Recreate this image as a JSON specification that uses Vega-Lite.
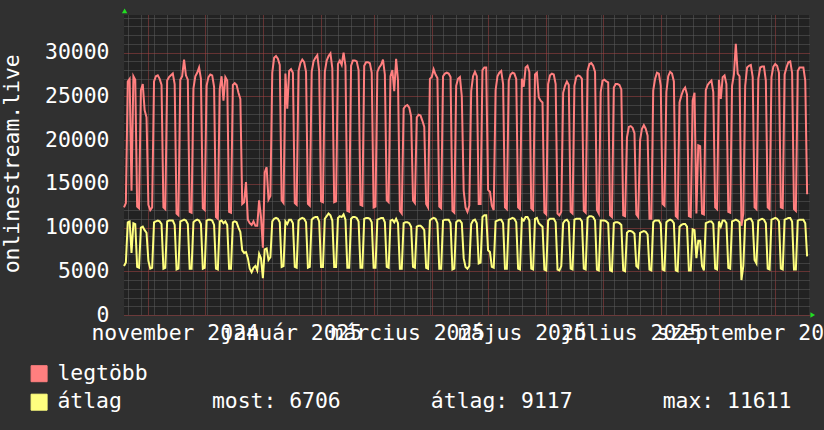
{
  "$schema": "https://vega.github.io/schema/vega-lite/v6.json",
  "width": 685,
  "height": 300,
  "autosize": "none",
  "padding": {"left": 124, "top": 15, "right": 15, "bottom": 115},
  "background": "#303030",
  "view": {"fill": "#222222", "stroke": null},
  "config": {"font": "DejaVu Sans Mono"},
  "data": {"values": [
{"d":"2024-10-19","legtöbb":12300,"átlag":5600},{"d":"2024-10-20","legtöbb":12800,"átlag":6000},
{"d":"2024-10-21","legtöbb":26700,"átlag":10600},{"d":"2024-10-22","legtöbb":27000,"átlag":10700},{"d":"2024-10-23","legtöbb":14200,"átlag":7100},{"d":"2024-10-24","legtöbb":27300,"átlag":10500},{"d":"2024-10-25","legtöbb":26900,"átlag":10400},{"d":"2024-10-26","legtöbb":12400,"átlag":5500},{"d":"2024-10-27","legtöbb":12200,"átlag":5400},
{"d":"2024-10-28","legtöbb":25700,"átlag":10000},{"d":"2024-10-29","legtöbb":26400,"átlag":10100},{"d":"2024-10-30","legtöbb":23400,"átlag":9700},{"d":"2024-10-31","legtöbb":22600,"átlag":9400},{"d":"2024-11-01","legtöbb":12600,"átlag":6200},{"d":"2024-11-02","legtöbb":12000,"átlag":5300},{"d":"2024-11-03","legtöbb":12300,"átlag":5400},
{"d":"2024-11-04","legtöbb":26700,"átlag":10600},{"d":"2024-11-05","legtöbb":27300,"átlag":10700},{"d":"2024-11-06","legtöbb":27400,"átlag":10800},{"d":"2024-11-07","legtöbb":27000,"átlag":10700},{"d":"2024-11-08","legtöbb":26300,"átlag":10400},{"d":"2024-11-09","legtöbb":12300,"átlag":5300},{"d":"2024-11-10","legtöbb":12100,"átlag":5400},
{"d":"2024-11-11","legtöbb":26800,"átlag":10700},{"d":"2024-11-12","legtöbb":27200,"átlag":10800},{"d":"2024-11-13","legtöbb":27400,"átlag":10800},{"d":"2024-11-14","legtöbb":27600,"átlag":10800},{"d":"2024-11-15","legtöbb":26400,"átlag":10300},{"d":"2024-11-16","legtöbb":11600,"átlag":5200},{"d":"2024-11-17","legtöbb":11400,"átlag":5300},
{"d":"2024-11-18","legtöbb":26900,"átlag":10700},{"d":"2024-11-19","legtöbb":27300,"átlag":10800},{"d":"2024-11-20","legtöbb":29200,"átlag":10900},{"d":"2024-11-21","legtöbb":27400,"átlag":10800},{"d":"2024-11-22","legtöbb":26900,"átlag":10400},{"d":"2024-11-23","legtöbb":11800,"átlag":5300},{"d":"2024-11-24","legtöbb":11700,"átlag":5300},
{"d":"2024-11-25","legtöbb":25900,"átlag":10600},{"d":"2024-11-26","legtöbb":27300,"átlag":10800},{"d":"2024-11-27","legtöbb":27700,"átlag":10900},{"d":"2024-11-28","legtöbb":28300,"átlag":10800},{"d":"2024-11-29","legtöbb":27000,"átlag":10400},{"d":"2024-11-30","legtöbb":12200,"átlag":5300},{"d":"2024-12-01","legtöbb":12000,"átlag":5400},
{"d":"2024-12-02","legtöbb":26200,"átlag":10800},{"d":"2024-12-03","legtöbb":27200,"átlag":10900},{"d":"2024-12-04","legtöbb":27500,"átlag":10900},{"d":"2024-12-05","legtöbb":27400,"átlag":10800},{"d":"2024-12-06","legtöbb":26100,"átlag":10300},{"d":"2024-12-07","legtöbb":11200,"átlag":5300},{"d":"2024-12-08","legtöbb":11000,"átlag":5200},
{"d":"2024-12-09","legtöbb":25800,"átlag":10700},{"d":"2024-12-10","legtöbb":27300,"átlag":10800},{"d":"2024-12-11","legtöbb":24500,"átlag":10500},{"d":"2024-12-12","legtöbb":27200,"átlag":10700},{"d":"2024-12-13","legtöbb":26800,"átlag":10300},{"d":"2024-12-14","legtöbb":11800,"átlag":5300},{"d":"2024-12-15","legtöbb":11700,"átlag":5300},
{"d":"2024-12-16","legtöbb":26300,"átlag":10600},{"d":"2024-12-17","legtöbb":26500,"átlag":10700},{"d":"2024-12-18","legtöbb":26300,"átlag":10600},{"d":"2024-12-19","legtöbb":25400,"átlag":10000},{"d":"2024-12-20","legtöbb":24700,"átlag":9500},{"d":"2024-12-21","legtöbb":12700,"átlag":7400},{"d":"2024-12-22","legtöbb":12900,"átlag":7100},
{"d":"2024-12-23","legtöbb":15200,"átlag":7200},{"d":"2024-12-24","legtöbb":10900,"átlag":6500},{"d":"2024-12-25","legtöbb":10500,"átlag":5300},{"d":"2024-12-26","legtöbb":10300,"átlag":4900},{"d":"2024-12-27","legtöbb":10700,"átlag":5400},{"d":"2024-12-28","legtöbb":10200,"átlag":5600},{"d":"2024-12-29","legtöbb":10200,"átlag":5100},
{"d":"2024-12-30","legtöbb":13100,"átlag":7000},{"d":"2024-12-31","legtöbb":11200,"átlag":6500},{"d":"2025-01-01","legtöbb":7700,"átlag":4200},{"d":"2025-01-02","legtöbb":16300,"átlag":7500},{"d":"2025-01-03","legtöbb":16900,"átlag":7600},{"d":"2025-01-04","legtöbb":13200,"átlag":6300},{"d":"2025-01-05","legtöbb":13600,"átlag":6600},
{"d":"2025-01-06","legtöbb":27700,"átlag":10700},{"d":"2025-01-07","legtöbb":29400,"átlag":11000},{"d":"2025-01-08","legtöbb":29600,"átlag":11100},{"d":"2025-01-09","legtöbb":29300,"átlag":11000},{"d":"2025-01-10","legtöbb":28600,"átlag":10600},{"d":"2025-01-11","legtöbb":13100,"átlag":5500},{"d":"2025-01-12","legtöbb":12800,"átlag":5600},
{"d":"2025-01-13","legtöbb":27600,"átlag":10700},{"d":"2025-01-14","legtöbb":23600,"átlag":10400},{"d":"2025-01-15","legtöbb":27900,"átlag":10900},{"d":"2025-01-16","legtöbb":28100,"átlag":10900},{"d":"2025-01-17","legtöbb":27700,"átlag":10500},{"d":"2025-01-18","legtöbb":12800,"átlag":5500},{"d":"2025-01-19","legtöbb":12600,"átlag":5400},
{"d":"2025-01-20","legtöbb":27900,"átlag":10800},{"d":"2025-01-21","legtöbb":28800,"átlag":11000},{"d":"2025-01-22","legtöbb":29200,"átlag":11100},{"d":"2025-01-23","legtöbb":28900,"átlag":11000},{"d":"2025-01-24","legtöbb":27800,"átlag":10600},{"d":"2025-01-25","legtöbb":12700,"átlag":5400},{"d":"2025-01-26","legtöbb":12500,"átlag":5500},
{"d":"2025-01-27","legtöbb":27800,"átlag":10900},{"d":"2025-01-28","legtöbb":29000,"átlag":11100},{"d":"2025-01-29","legtöbb":29400,"átlag":11200},{"d":"2025-01-30","legtöbb":29700,"átlag":11200},{"d":"2025-01-31","legtöbb":27900,"átlag":10700},{"d":"2025-02-01","legtöbb":13000,"átlag":5500},{"d":"2025-02-02","legtöbb":12900,"átlag":5500},
{"d":"2025-02-03","legtöbb":27800,"átlag":11000},{"d":"2025-02-04","legtöbb":29100,"átlag":11300},{"d":"2025-02-05","legtöbb":29600,"átlag":11611},{"d":"2025-02-06","legtöbb":29900,"átlag":11400},{"d":"2025-02-07","legtöbb":28200,"átlag":10800},{"d":"2025-02-08","legtöbb":12900,"átlag":5500},{"d":"2025-02-09","legtöbb":13000,"átlag":5500},
{"d":"2025-02-10","legtöbb":28700,"átlag":11100},{"d":"2025-02-11","legtöbb":29100,"átlag":11300},{"d":"2025-02-12","legtöbb":28600,"átlag":11200},{"d":"2025-02-13","legtöbb":30000,"átlag":11500},{"d":"2025-02-14","legtöbb":28500,"átlag":10900},{"d":"2025-02-15","legtöbb":11900,"átlag":5400},{"d":"2025-02-16","legtöbb":11800,"átlag":5400},
{"d":"2025-02-17","legtöbb":28500,"átlag":11000},{"d":"2025-02-18","legtöbb":29100,"átlag":11200},{"d":"2025-02-19","legtöbb":29100,"átlag":11200},{"d":"2025-02-20","legtöbb":29000,"átlag":11100},{"d":"2025-02-21","legtöbb":28000,"átlag":10700},{"d":"2025-02-22","legtöbb":12600,"átlag":5400},{"d":"2025-02-23","legtöbb":12500,"átlag":5400},
{"d":"2025-02-24","legtöbb":28500,"átlag":11000},{"d":"2025-02-25","legtöbb":28900,"átlag":11100},{"d":"2025-02-26","legtöbb":28900,"átlag":11100},{"d":"2025-02-27","legtöbb":28800,"átlag":11000},{"d":"2025-02-28","legtöbb":27700,"átlag":10600},{"d":"2025-03-01","legtöbb":12300,"átlag":5400},{"d":"2025-03-02","legtöbb":12400,"átlag":5400},
{"d":"2025-03-03","legtöbb":27800,"átlag":10900},{"d":"2025-03-04","legtöbb":28300,"átlag":11000},{"d":"2025-03-05","legtöbb":28600,"átlag":11100},{"d":"2025-03-06","legtöbb":29200,"átlag":11100},{"d":"2025-03-07","legtöbb":27500,"átlag":10600},{"d":"2025-03-08","legtöbb":13100,"átlag":5500},{"d":"2025-03-09","legtöbb":12900,"átlag":5400},
{"d":"2025-03-10","legtöbb":27300,"átlag":10800},{"d":"2025-03-11","legtöbb":28000,"átlag":10900},{"d":"2025-03-12","legtöbb":25600,"átlag":10600},{"d":"2025-03-13","legtöbb":29300,"átlag":11000},{"d":"2025-03-14","legtöbb":26800,"átlag":10500},{"d":"2025-03-15","legtöbb":11900,"átlag":5300},{"d":"2025-03-16","legtöbb":11600,"átlag":5300},
{"d":"2025-03-17","legtöbb":23600,"átlag":10500},{"d":"2025-03-18","legtöbb":23900,"átlag":10600},{"d":"2025-03-19","legtöbb":24000,"átlag":10600},{"d":"2025-03-20","legtöbb":23700,"átlag":10500},{"d":"2025-03-21","legtöbb":22700,"átlag":10100},{"d":"2025-03-22","legtöbb":13100,"átlag":5500},{"d":"2025-03-23","legtöbb":12800,"átlag":5400},
{"d":"2025-03-24","legtöbb":22600,"átlag":10100},{"d":"2025-03-25","legtöbb":22900,"átlag":10200},{"d":"2025-03-26","legtöbb":22800,"átlag":10200},{"d":"2025-03-27","legtöbb":22200,"átlag":10000},{"d":"2025-03-28","legtöbb":21500,"átlag":9700},{"d":"2025-03-29","legtöbb":12700,"átlag":5400},{"d":"2025-03-30","legtöbb":12300,"átlag":5300},
{"d":"2025-03-31","legtöbb":27000,"átlag":10800},{"d":"2025-04-01","legtöbb":27200,"átlag":11000},{"d":"2025-04-02","legtöbb":28100,"átlag":11100},{"d":"2025-04-03","legtöbb":27500,"átlag":11000},{"d":"2025-04-04","legtöbb":27100,"átlag":10500},{"d":"2025-04-05","legtöbb":12400,"átlag":5300},{"d":"2025-04-06","legtöbb":12200,"átlag":5300},
{"d":"2025-04-07","legtöbb":27300,"átlag":10800},{"d":"2025-04-08","legtöbb":27600,"átlag":10900},{"d":"2025-04-09","legtöbb":27700,"átlag":10900},{"d":"2025-04-10","legtöbb":27600,"átlag":10900},{"d":"2025-04-11","legtöbb":27200,"átlag":10500},{"d":"2025-04-12","legtöbb":11900,"átlag":5200},{"d":"2025-04-13","legtöbb":11700,"átlag":5300},
{"d":"2025-04-14","legtöbb":26200,"átlag":10600},{"d":"2025-04-15","legtöbb":27000,"átlag":10800},{"d":"2025-04-16","legtöbb":27200,"átlag":10800},{"d":"2025-04-17","legtöbb":25000,"átlag":10500},{"d":"2025-04-18","legtöbb":14200,"átlag":6500},{"d":"2025-04-19","legtöbb":12300,"átlag":5500},{"d":"2025-04-20","legtöbb":11800,"átlag":5300},
{"d":"2025-04-21","legtöbb":12500,"átlag":5600},{"d":"2025-04-22","legtöbb":25600,"átlag":10400},{"d":"2025-04-23","legtöbb":27300,"átlag":10800},{"d":"2025-04-24","legtöbb":27800,"átlag":10900},{"d":"2025-04-25","legtöbb":27300,"átlag":10500},{"d":"2025-04-26","legtöbb":12700,"átlag":5900},{"d":"2025-04-27","legtöbb":12700,"átlag":6000},
{"d":"2025-04-28","legtöbb":28000,"átlag":11200},{"d":"2025-04-29","legtöbb":28300,"átlag":11400},{"d":"2025-04-30","legtöbb":28300,"átlag":11400},{"d":"2025-05-01","legtöbb":14300,"átlag":7400},{"d":"2025-05-02","legtöbb":14100,"átlag":7200},{"d":"2025-05-03","legtöbb":12500,"átlag":5500},{"d":"2025-05-04","legtöbb":12000,"átlag":5400},
{"d":"2025-05-05","legtöbb":25700,"átlag":10700},{"d":"2025-05-06","legtöbb":27300,"átlag":10800},{"d":"2025-05-07","legtöbb":27700,"átlag":10900},{"d":"2025-05-08","legtöbb":27900,"átlag":10900},{"d":"2025-05-09","legtöbb":26400,"átlag":10500},{"d":"2025-05-10","legtöbb":12300,"átlag":5300},{"d":"2025-05-11","legtöbb":12100,"átlag":5300},
{"d":"2025-05-12","legtöbb":26800,"átlag":10900},{"d":"2025-05-13","legtöbb":27500,"átlag":11000},{"d":"2025-05-14","legtöbb":27700,"átlag":11100},{"d":"2025-05-15","legtöbb":27600,"átlag":11000},{"d":"2025-05-16","legtöbb":27000,"átlag":10600},{"d":"2025-05-17","legtöbb":12300,"átlag":5300},{"d":"2025-05-18","legtöbb":12100,"átlag":5200},
{"d":"2025-05-19","legtöbb":27000,"átlag":11000},{"d":"2025-05-20","legtöbb":26100,"átlag":10800},{"d":"2025-05-21","legtöbb":28300,"átlag":11200},{"d":"2025-05-22","legtöbb":28500,"átlag":11200},{"d":"2025-05-23","legtöbb":27800,"átlag":10800},{"d":"2025-05-24","legtöbb":12200,"átlag":5300},{"d":"2025-05-25","legtöbb":12000,"átlag":5200},
{"d":"2025-05-26","legtöbb":27500,"átlag":11000},{"d":"2025-05-27","legtöbb":27700,"átlag":11100},{"d":"2025-05-28","legtöbb":24900,"átlag":10500},{"d":"2025-05-29","legtöbb":24500,"átlag":10300},{"d":"2025-05-30","legtöbb":24300,"átlag":10100},{"d":"2025-05-31","legtöbb":11700,"átlag":5200},{"d":"2025-06-01","legtöbb":11500,"átlag":5100},
{"d":"2025-06-02","legtöbb":26400,"átlag":10800},{"d":"2025-06-03","legtöbb":27400,"átlag":11000},{"d":"2025-06-04","legtöbb":27600,"átlag":11000},{"d":"2025-06-05","legtöbb":27500,"átlag":11000},{"d":"2025-06-06","legtöbb":26400,"átlag":10600},{"d":"2025-06-07","legtöbb":11600,"átlag":5200},{"d":"2025-06-08","legtöbb":11400,"átlag":5100},
{"d":"2025-06-09","legtöbb":11800,"átlag":5600},{"d":"2025-06-10","legtöbb":25400,"átlag":10500},{"d":"2025-06-11","legtöbb":26200,"átlag":10800},{"d":"2025-06-12","legtöbb":26700,"átlag":10900},{"d":"2025-06-13","legtöbb":26300,"átlag":10600},{"d":"2025-06-14","legtöbb":11800,"átlag":5300},{"d":"2025-06-15","legtöbb":11600,"átlag":5200},
{"d":"2025-06-16","legtöbb":26200,"átlag":10900},{"d":"2025-06-17","legtöbb":27200,"átlag":11000},{"d":"2025-06-18","legtöbb":27400,"átlag":11000},{"d":"2025-06-19","legtöbb":27300,"átlag":11000},{"d":"2025-06-20","legtöbb":27000,"átlag":10700},{"d":"2025-06-21","legtöbb":11900,"átlag":5300},{"d":"2025-06-22","legtöbb":11700,"átlag":5200},
{"d":"2025-06-23","legtöbb":27900,"átlag":11100},{"d":"2025-06-24","legtöbb":28700,"átlag":11300},{"d":"2025-06-25","legtöbb":28800,"átlag":11300},{"d":"2025-06-26","legtöbb":28500,"átlag":11200},{"d":"2025-06-27","legtöbb":27800,"átlag":10800},{"d":"2025-06-28","legtöbb":12000,"átlag":5200},{"d":"2025-06-29","legtöbb":11600,"átlag":5100},
{"d":"2025-06-30","legtöbb":25500,"átlag":10800},{"d":"2025-07-01","legtöbb":26800,"átlag":10800},{"d":"2025-07-02","legtöbb":26900,"átlag":10800},{"d":"2025-07-03","legtöbb":26700,"átlag":10700},{"d":"2025-07-04","legtöbb":26600,"átlag":10500},{"d":"2025-07-05","legtöbb":11400,"átlag":5100},{"d":"2025-07-06","legtöbb":11200,"átlag":5000},
{"d":"2025-07-07","legtöbb":26000,"átlag":10500},{"d":"2025-07-08","legtöbb":26400,"átlag":10600},{"d":"2025-07-09","legtöbb":26400,"átlag":10600},{"d":"2025-07-10","legtöbb":26300,"átlag":10500},{"d":"2025-07-11","legtöbb":25800,"átlag":10300},{"d":"2025-07-12","legtöbb":11400,"átlag":5100},{"d":"2025-07-13","legtöbb":11300,"átlag":5000},
{"d":"2025-07-14","legtöbb":20300,"átlag":9400},{"d":"2025-07-15","legtöbb":21500,"átlag":9600},{"d":"2025-07-16","legtöbb":21600,"átlag":9600},{"d":"2025-07-17","legtöbb":21400,"átlag":9500},{"d":"2025-07-18","legtöbb":20800,"átlag":9300},{"d":"2025-07-19","legtöbb":11500,"átlag":5600},{"d":"2025-07-20","legtöbb":11200,"átlag":5400},
{"d":"2025-07-21","legtöbb":20000,"átlag":9400},{"d":"2025-07-22","legtöbb":21300,"átlag":9500},{"d":"2025-07-23","legtöbb":21700,"átlag":9600},{"d":"2025-07-24","legtöbb":21300,"átlag":9500},{"d":"2025-07-25","legtöbb":20500,"átlag":9200},{"d":"2025-07-26","legtöbb":11000,"átlag":5200},{"d":"2025-07-27","legtöbb":11000,"átlag":5100},
{"d":"2025-07-28","legtöbb":25700,"átlag":10600},{"d":"2025-07-29","legtöbb":27000,"átlag":10800},{"d":"2025-07-30","legtöbb":27700,"átlag":10800},{"d":"2025-07-31","legtöbb":27600,"átlag":10800},{"d":"2025-08-01","legtöbb":26200,"átlag":10400},{"d":"2025-08-02","legtöbb":12700,"átlag":5200},{"d":"2025-08-03","legtöbb":12500,"átlag":5100},
{"d":"2025-08-04","legtöbb":25500,"átlag":10600},{"d":"2025-08-05","legtöbb":27300,"átlag":10800},{"d":"2025-08-06","legtöbb":27800,"átlag":10900},{"d":"2025-08-07","legtöbb":27600,"átlag":10800},{"d":"2025-08-08","legtöbb":26700,"átlag":10500},{"d":"2025-08-09","legtöbb":11300,"átlag":5100},{"d":"2025-08-10","legtöbb":11100,"átlag":5000},
{"d":"2025-08-11","legtöbb":24300,"átlag":10100},{"d":"2025-08-12","legtöbb":25100,"átlag":10300},{"d":"2025-08-13","legtöbb":25700,"átlag":10400},{"d":"2025-08-14","legtöbb":26000,"átlag":10400},{"d":"2025-08-15","legtöbb":25200,"átlag":10100},{"d":"2025-08-16","legtöbb":11300,"átlag":5100},{"d":"2025-08-17","legtöbb":11200,"átlag":5100},
{"d":"2025-08-18","legtöbb":24500,"átlag":9800},{"d":"2025-08-19","legtöbb":25400,"átlag":9700},{"d":"2025-08-20","legtöbb":11600,"átlag":6500},{"d":"2025-08-21","legtöbb":19400,"átlag":8500},{"d":"2025-08-22","legtöbb":19300,"átlag":8500},{"d":"2025-08-23","legtöbb":11600,"átlag":5600},{"d":"2025-08-24","legtöbb":11500,"átlag":5100},
{"d":"2025-08-25","legtöbb":25700,"átlag":10500},{"d":"2025-08-26","legtöbb":26300,"átlag":10600},{"d":"2025-08-27","legtöbb":26600,"átlag":10700},{"d":"2025-08-28","legtöbb":26800,"átlag":10700},{"d":"2025-08-29","legtöbb":25500,"átlag":10400},{"d":"2025-08-30","legtöbb":12300,"átlag":5300},{"d":"2025-08-31","legtöbb":12100,"átlag":5200},
{"d":"2025-09-01","legtöbb":26900,"átlag":10700},{"d":"2025-09-02","legtöbb":24700,"átlag":10100},{"d":"2025-09-03","legtöbb":27200,"átlag":10800},{"d":"2025-09-04","legtöbb":27400,"átlag":10800},{"d":"2025-09-05","legtöbb":26400,"átlag":10500},{"d":"2025-09-06","legtöbb":11800,"átlag":5400},{"d":"2025-09-07","legtöbb":11700,"átlag":5300},
{"d":"2025-09-08","legtöbb":26200,"átlag":10700},{"d":"2025-09-09","legtöbb":27500,"átlag":10800},{"d":"2025-09-10","legtöbb":31000,"átlag":10900},{"d":"2025-09-11","legtöbb":27600,"átlag":10800},{"d":"2025-09-12","legtöbb":27300,"átlag":10600},{"d":"2025-09-13","legtöbb":10200,"átlag":4000},{"d":"2025-09-14","legtöbb":11600,"átlag":5600},
{"d":"2025-09-15","legtöbb":26200,"átlag":10800},{"d":"2025-09-16","legtöbb":28300,"átlag":10900},{"d":"2025-09-17","legtöbb":28500,"átlag":11000},{"d":"2025-09-18","legtöbb":28600,"átlag":11000},{"d":"2025-09-19","legtöbb":27200,"átlag":10600},{"d":"2025-09-20","legtöbb":12300,"átlag":6300},{"d":"2025-09-21","legtöbb":12100,"átlag":5900},
{"d":"2025-09-22","legtöbb":27000,"átlag":10800},{"d":"2025-09-23","legtöbb":28300,"átlag":10900},{"d":"2025-09-24","legtöbb":28400,"átlag":11000},{"d":"2025-09-25","legtöbb":28400,"átlag":10900},{"d":"2025-09-26","legtöbb":26800,"átlag":10500},{"d":"2025-09-27","legtöbb":12300,"átlag":5300},{"d":"2025-09-28","legtöbb":12100,"átlag":5200},
{"d":"2025-09-29","legtöbb":27200,"átlag":10900},{"d":"2025-09-30","legtöbb":28400,"átlag":11000},{"d":"2025-10-01","legtöbb":28700,"átlag":11100},{"d":"2025-10-02","legtöbb":28500,"átlag":11000},{"d":"2025-10-03","legtöbb":27700,"átlag":10700},{"d":"2025-10-04","legtöbb":12300,"átlag":5300},{"d":"2025-10-05","legtöbb":12200,"átlag":5200},
{"d":"2025-10-06","legtöbb":27500,"átlag":10900},{"d":"2025-10-07","legtöbb":28300,"átlag":11000},{"d":"2025-10-08","legtöbb":28900,"átlag":11100},{"d":"2025-10-09","legtöbb":29000,"átlag":11100},{"d":"2025-10-10","legtöbb":27700,"átlag":10700},{"d":"2025-10-11","legtöbb":12100,"átlag":5200},{"d":"2025-10-12","legtöbb":11900,"átlag":5200},
{"d":"2025-10-13","legtöbb":27900,"átlag":10800},{"d":"2025-10-14","legtöbb":28300,"átlag":10900},{"d":"2025-10-15","legtöbb":28300,"átlag":10900},{"d":"2025-10-16","legtöbb":28300,"átlag":10900},{"d":"2025-10-17","legtöbb":26800,"átlag":10500},{"d":"2025-10-18","legtöbb":13800,"átlag":6706}
  ]},
  "layer": [
    {
      "transform": [{"fold": ["legtöbb", "átlag"], "as": ["series", "v"]}],
      "mark": {"type": "line", "strokeWidth": 2, "interpolate": "linear"},
      "encoding": {
        "x": {
          "field": "d", "type": "temporal",
          "scale": {"type": "utc", "domain": [{"year": 2024, "month": 10, "date": 19, "utc": true}, {"year": 2025, "month": 10, "date": 19, "utc": true}]},
          "axis": {
            "title": null,
            "tickCount": {"interval": "day", "step": 1},
            "domain": false, "ticks": false, "tickSize": 0,
            "grid": true,
            "gridDash": [1, 1],
            "gridWidth": 1,
            "gridColor": {"condition": {"test": "utcdate(datum.value) == 1", "value": "#a84444"}, "value": "#5e5e5e"},
            "gridOpacity": {"condition": {"test": "utcdate(datum.value) == 1 || utcday(datum.value) == 1", "value": 1}, "value": 0},
            "labelExpr": "indexof(['2024-11-15','2025-01-16','2025-03-19','2025-05-19','2025-07-16','2025-09-19'], utcFormat(datum.value, '%Y-%m-%d')) >= 0 ? ['január','február','március','április','május','június','július','augusztus','szeptember','október','november','december'][utcmonth(datum.value)] + ' ' + utcyear(datum.value) : ''",
            "labelOverlap": false, "labelFlush": false, "labelBound": false,
            "labelAlign": "center", "labelBaseline": "alphabetic", "labelPadding": 24,
            "labelFont": "DejaVu Sans Mono", "labelFontSize": 21.4, "labelColor": "#ffffff", "labelLimit": 0
          }
        },
        "y": {
          "field": "v", "type": "quantitative",
          "scale": {"domain": [0, 34300], "nice": false, "zero": true},
          "axis": {
            "title": "onlinestream.live",
            "titleFont": "DejaVu Sans Mono", "titleFontSize": 21.4, "titleFontWeight": "normal", "titleColor": "#ffffff",
            "titleAngle": 270, "titleAlign": "center", "titleBaseline": "alphabetic", "titleX": -105.7, "titleY": 148.3,
            "tickCount": 34,
            "domain": false, "ticks": false, "tickSize": 0,
            "grid": true, "gridDash": [1, 1], "gridWidth": 1,
            "gridColor": {"condition": {"test": "datum.value % 5000 == 0", "value": "#a84444"}, "value": "#5e5e5e"},
            "labelExpr": "datum.value % 5000 == 0 ? format(datum.value, 'd') : ''",
            "labelOverlap": false, "labelFlush": false, "labelBound": false,
            "labelAlign": "right", "labelBaseline": "middle", "labelPadding": 15,
            "labelFont": "DejaVu Sans Mono", "labelFontSize": 21.4, "labelColor": "#ffffff"
          }
        },
        "color": {
          "field": "series", "type": "nominal",
          "scale": {"domain": ["legtöbb", "átlag"], "range": ["#ff7f7f", "#ffff7f"]},
          "legend": {
            "title": null, "orient": "none", "legendX": -95.6, "legendY": 348, "direction": "vertical",
            "padding": 0, "rowPadding": 5.5,
            "symbolType": "square", "symbolSize": 256, "symbolStrokeWidth": 1, "symbolStrokeColor": "#000000", "symbolOpacity": 1,
            "labelFont": "DejaVu Sans Mono", "labelFontSize": 21.4, "labelColor": "#ffffff", "labelOffset": 7.6, "labelLimit": 900,
            "labelExpr": "datum.label == 'átlag' ? 'átlag\u00a0\u00a0\u00a0\u00a0\u00a0\u00a0\u00a0most:\u00a06706\u00a0\u00a0\u00a0\u00a0\u00a0\u00a0\u00a0átlag:\u00a09117\u00a0\u00a0\u00a0\u00a0\u00a0\u00a0\u00a0max:\u00a011611' : datum.label",
            "encode": {"symbols": {"update": {"fill": {"scale": "color", "field": "value"}, "fillOpacity": {"value": 1}, "stroke": {"value": "#000000"}}}}
          }
        }
      }
    },
    {
      "data": {"values": [{}]},
      "mark": {"type": "point", "shape": "triangle-up", "filled": true, "color": "#22dd22", "size": 30, "opacity": 1},
      "encoding": {
        "x": {"datum": {"year": 2024, "month": 10, "date": 19, "hours": 8, "utc": true}, "type": "temporal"},
        "y": {"datum": 34760, "type": "quantitative"}
      }
    },
    {
      "data": {"values": [{}]},
      "mark": {"type": "point", "shape": "triangle-right", "filled": true, "color": "#22dd22", "size": 30, "opacity": 1},
      "encoding": {
        "x": {"datum": {"year": 2025, "month": 10, "date": 21, "utc": true}, "type": "temporal"},
        "y": {"datum": 0, "type": "quantitative"}
      }
    }
  ]
}
